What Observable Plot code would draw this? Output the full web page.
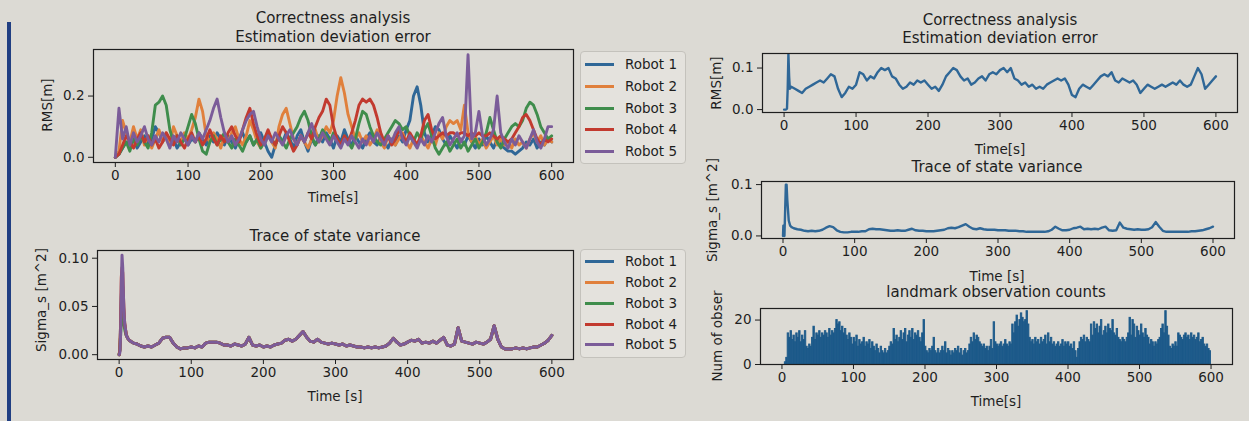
<!DOCTYPE html>
<html><head><meta charset="utf-8">
<script src="https://cdn.jsdelivr.net/npm/d3@7"></script>
<script src="https://cdn.jsdelivr.net/npm/@observablehq/plot@0.6"></script>
<style>
html,body{margin:0;padding:0;background:#dcdad4;}
#root{position:relative;width:1249px;height:421px;overflow:hidden;background:#dcdad4;font-family:"DejaVu Sans",sans-serif;color:#1e1e1e;}
.abs{position:absolute;}
.t{position:absolute;white-space:nowrap;transform:translate(-50%,-50%);}
.r{position:absolute;white-space:nowrap;transform:translate(-50%,-50%) rotate(-90deg);}
.legend{position:absolute;border:1px solid #c4c2bc;border-radius:4px;background:rgba(229,227,222,0.85);}
.li{position:absolute;left:4px;height:0;}
.li .sw{position:absolute;left:0;top:-1.5px;width:29px;height:3px;}
.li .lt{position:absolute;left:40px;top:-9px;font-size:13.5px;line-height:18px;white-space:nowrap;}
</style>
</head><body>
<div id="root"></div>
<script>
// ---------------- data ----------------
const robots = ["Robot 1", "Robot 2", "Robot 3", "Robot 4", "Robot 5"];
const robotColors = ["#2f6797", "#e0803c", "#3f8d4c", "#c23a2f", "#7b5c99"];
const xTicks = [0, 100, 200, 300, 400, 500, 600];

// Panel A: RMS per robot, sampled every 5 s from 0 to 600
const rmsTime = d3.range(0, 601, 5);
const rmsRobot1 = [0,.01,.03,.05,.04,.06,.03,.05,.07,.04,
 .06,.1,.08,.05,.07,.04,.06,.03,.05,.07,
 .04,.06,.05,.08,.06,.04,.07,.05,.08,.06,
 .04,.07,.05,.03,.06,.08,.05,.07,.04,.06,
 .08,.05,.02,0,.04,.07,.05,.08,.06,.03,
 .07,.09,.05,.02,.06,.04,.07,.05,.08,.06,
 .03,.07,.05,.09,.06,.04,.07,.05,.03,.06,
 .08,.05,.04,.07,.05,.03,.06,.04,.07,.05,
 .09,.12,.2,.23,.17,.08,.05,.07,.1,.09,
 .06,.04,.07,.05,.03,.06,.04,.07,.05,.03,
 .06,.04,.07,.05,.03,.06,.04,.03,.02,.02,
 .01,.02,.03,.05,.04,.06,.03,.05,.04,.06,
 .05];
const rmsRobot2 = [0,.02,.12,.08,.05,.1,.06,.09,.04,.07,
 .03,.06,.09,.05,.08,.04,.1,.07,.05,.08,
 .06,.09,.13,.19,.15,.07,.05,.08,.06,.03,
 .07,.05,.08,.1,.06,.04,.07,.12,.09,.05,
 .03,.06,.08,.05,.03,.1,.14,.16,.11,.06,
 .04,.07,.05,.03,.06,.09,.05,.07,.1,.08,
 .12,.2,.26,.21,.14,.1,.06,.08,.05,.07,
 .04,.06,.09,.05,.03,.07,.05,.04,.06,.08,
 .05,.03,.06,.04,.07,.05,.03,.06,.04,.08,
 .06,.1,.12,.11,.12,.09,.17,.08,.05,.07,
 .04,.06,.03,.05,.07,.04,.06,.04,.05,.03,
 .06,.04,.05,.03,.06,.08,.05,.07,.04,.06,
 .05];
const rmsRobot3 = [0,.01,.03,.05,.02,.06,.04,.07,.05,.03,
 .08,.17,.18,.2,.17,.09,.05,.07,.04,.06,
 .1,.14,.11,.06,.02,.01,.05,.07,.04,.06,
 .08,.05,.03,.06,.04,.02,.05,.07,.04,.06,
 .03,.05,.08,.06,.04,.07,.05,.03,.06,.08,
 .1,.13,.15,.12,.07,.04,.06,.09,.07,.05,
 .08,.06,.04,.07,.05,.03,.06,.11,.15,.14,
 .1,.07,.05,.04,.06,.08,.1,.12,.11,.09,
 .1,.07,.05,.08,.06,.09,.11,.07,.03,.01,
 .03,.05,.02,.04,.06,.03,.05,.02,.04,.06,
 .03,.05,.08,.13,.09,.05,.03,.06,.08,.1,
 .11,.1,.12,.16,.18,.17,.14,.1,.08,.06,
 .07];
const rmsRobot4 = [0,.01,.04,.07,.05,.03,.06,.08,.05,.07,
 .04,.06,.03,.05,.08,.06,.04,.07,.05,.03,
 .06,.08,.05,.07,.04,.06,.09,.06,.04,.07,
 .05,.08,.1,.07,.05,.09,.13,.16,.11,.07,
 .04,.06,.09,.06,.04,.07,.1,.08,.05,.02,
 .04,.07,.05,.08,.06,.1,.13,.15,.19,.17,
 .1,.06,.04,.07,.05,.08,.12,.17,.19,.18,
 .19,.17,.13,.08,.05,.07,.04,.06,.09,.07,
 .05,.08,.06,.04,.07,.12,.14,.09,.06,.07,
 .08,.07,.08,.08,.07,.08,.08,.07,.08,.07,
 .08,.07,.07,.08,.07,.06,.07,.06,.05,.06,
 .08,.1,.13,.14,.12,.09,.06,.04,.06,.05,
 .06];
const rmsRobot5 = [0,.16,.06,.1,.04,.08,.05,.07,.1,.06,
 .04,.07,.05,.08,.06,.03,.07,.05,.08,.06,
 .04,.07,.05,.08,.06,.09,.12,.16,.19,.13,
 .08,.05,.07,.04,.06,.09,.12,.14,.15,.1,
 .06,.04,.07,.05,.08,.06,.04,.07,.09,.06,
 .04,.07,.05,.08,.11,.07,.05,.08,.06,.04,
 .07,.05,.03,.06,.04,.07,.05,.03,.06,.04,
 .07,.05,.08,.06,.04,.07,.05,.08,.1,.06,
 .04,.07,.05,.03,.06,.04,.07,.05,.08,.11,
 .13,.07,.04,.06,.08,.05,.07,.335,.06,.08,
 .15,.07,.04,.06,.09,.2,.08,.05,.03,.06,
 .04,.07,.05,.03,.06,.09,.05,.03,.06,.1,
 .1];
const rmsRobots = [rmsRobot1, rmsRobot2, rmsRobot3, rmsRobot4, rmsRobot5];

// Panel B: trace of state variance per robot
const sigmaEarlyTime = [0,1,2,3,4,5,6,7,8,9,10,12,14,16,18];
const sigmaEarly1 = [0,.005,.03,.06,.075,.07,.05,.035,.03,.025,.02,.017,.015,.014,.013];
const sigmaEarly2 = [0,.005,.025,.05,.065,.06,.05,.035,.03,.025,.02,.017,.015,.014,.013];
const sigmaEarly3 = [0,.005,.02,.035,.04,.045,.035,.03,.025,.022,.02,.017,.015,.014,.013];
const sigmaEarly4 = [0,.005,.03,.08,.09,.085,.06,.04,.03,.025,.02,.017,.015,.014,.013];
const sigmaEarly5 = [0,.002,.02,.07,.103,.09,.06,.04,.03,.025,.02,.017,.015,.014,.013];
const sigmaEarly = [sigmaEarly1, sigmaEarly2, sigmaEarly3, sigmaEarly4, sigmaEarly5];
// after 20 s all robots coincide (every 5 s, 20..600)
const sigmaLateTime = d3.range(20, 601, 5);
const sigmaLate = [.012,.011,.009,.008,.009,.008,.01,.012,.017,.018,
 .018,.012,.008,.006,.007,.007,.008,.007,.009,.008,
 .012,.013,.013,.013,.012,.01,.01,.009,.011,.01,
 .009,.011,.018,.01,.009,.01,.008,.009,.008,.01,
 .011,.012,.015,.016,.014,.016,.02,.024,.018,.014,
 .013,.016,.013,.012,.011,.012,.011,.01,.011,.009,
 .01,.009,.008,.008,.007,.008,.007,.008,.007,.008,
 .009,.012,.017,.013,.01,.011,.013,.015,.014,.016,
 .012,.013,.012,.014,.012,.015,.018,.01,.009,.011,
 .028,.014,.013,.012,.011,.013,.012,.011,.013,.016,
 .03,.016,.008,.006,.006,.006,.007,.006,.007,.006,
 .007,.008,.008,.01,.012,.015,.02];

// Panel C: mean RMS
const meanRmsTime = [0,2,4,5,6,7,8].concat(d3.range(10, 601, 5));
const meanRms = [0,0,.002,.05,.133,.08,.05,
 .055,.05,.045,.04,.05,.055,.06,.065,.07,.065,
 .075,.085,.08,.05,.03,.04,.055,.05,.06,.09,
 .085,.07,.08,.075,.09,.1,.095,.1,.08,.075,
 .06,.05,.055,.065,.06,.07,.065,.07,.06,.05,
 .055,.045,.06,.08,.09,.1,.095,.08,.07,.075,
 .06,.065,.075,.08,.07,.085,.09,.085,.095,.1,
 .09,.1,.075,.07,.06,.065,.055,.06,.05,.055,
 .05,.06,.065,.07,.075,.07,.075,.06,.035,.03,
 .05,.06,.055,.05,.06,.07,.08,.085,.08,.09,
 .07,.065,.075,.07,.065,.07,.06,.04,.05,.06,
 .055,.05,.055,.06,.055,.06,.065,.06,.07,.06,
 .055,.06,.08,.1,.085,.05,.06,.07,.08];

// Panel D: mean trace of state variance
const meanSigmaTime = [0,0.5,2,3,4,5,6,8,10,12,15].concat(d3.range(20, 601, 5));
const meanSigma = [0,.02,0,.05,.1,.1,.07,.03,.02,.017,.015,
 .013,.012,.01,.009,.01,.009,.01,.012,.016,.019,
 .017,.011,.008,.007,.007,.008,.008,.008,.009,.009,
 .013,.014,.013,.013,.012,.011,.01,.01,.011,.01,
 .01,.012,.014,.011,.01,.01,.009,.009,.009,.01,
 .011,.012,.015,.016,.015,.017,.02,.023,.018,.014,
 .013,.015,.013,.012,.012,.012,.011,.011,.011,.01,
 .01,.01,.009,.009,.008,.008,.008,.008,.008,.008,
 .009,.012,.018,.014,.011,.011,.012,.015,.016,.018,
 .013,.014,.013,.014,.013,.016,.018,.011,.01,.011,
 .026,.016,.014,.013,.012,.013,.012,.012,.013,.017,
 .027,.018,.01,.008,.008,.008,.008,.008,.008,.008,
 .009,.009,.01,.011,.013,.015,.018];

// Panel E: landmark observation counts, 2 s bins from 0 to 600
const binWidth = 2;
const obsCounts = [0,0,1,3,14,12,15,11,13,10,
 14,12,15,10,13,11,15,8,7,9,
 8,12,17,11,14,13,15,12,14,13,
 15,14,12,16,13,15,14,16,20,18,
 19,15,17,14,16,13,11,14,12,9,
 12,10,13,8,11,9,10,12,8,10,
 9,11,7,10,8,6,9,7,5,8,
 6,5,7,5,6,8,10,9,16,11,
 13,10,12,15,11,14,16,10,13,15,
 12,16,11,14,13,15,12,10,14,20,
 8,6,5,7,6,8,12,6,5,7,
 5,6,8,6,10,5,7,6,4,6,
 5,7,6,8,5,7,4,6,7,5,
 6,9,12,10,14,11,13,12,10,9,
 8,9,7,8,6,8,11,7,19,10,
 9,8,9,10,8,9,11,9,8,10,
 9,18,14,19,22,17,20,23,21,19,
 20,24,18,12,10,11,9,12,10,11,
 9,12,10,11,13,9,14,10,12,9,
 10,8,9,10,8,9,11,8,10,9,
 10,8,9,7,10,6,3,7,10,12,
 11,13,10,12,11,10,18,13,19,16,
 18,14,17,20,13,15,17,14,18,16,
 15,20,14,13,16,12,11,10,12,11,
 10,12,14,21,13,20,18,12,17,15,
 13,18,14,12,16,13,12,9,11,10,
 8,10,9,11,12,16,18,14,24,17,
 13,8,7,9,8,10,8,14,13,12,
 11,13,14,12,13,11,14,12,13,11,
 12,14,10,11,12,9,8,9,7,6];

// ---------------- tables ----------------
const rmsTable = robots.flatMap((r, k) => rmsTime.map((t, i) => ({robot: r, t, v: rmsRobots[k][i]})));
const sigmaTable = robots.flatMap((r, k) => [
  ...sigmaEarlyTime.map((t, i) => ({robot: r, t, v: sigmaEarly[k][i]})),
  ...sigmaLateTime.map((t, i) => ({robot: r, t, v: sigmaLate[i]}))
]);
const meanRmsTable = meanRmsTime.map((t, i) => ({t, v: meanRms[i]}));
const meanSigmaTable = meanSigmaTime.map((t, i) => ({t, v: meanSigma[i]}));
const obsTable = obsCounts.map((n, i) => ({t0: i * binWidth, t1: (i + 1) * binWidth, n}));

// ---------------- drawing ----------------
const root = document.getElementById("root");
const ink = "#1e1e1e";

function panel(o) {
  const svg = Plot.plot({
    width: o.width, height: o.height,
    marginTop: o.mt, marginRight: o.mr, marginBottom: o.mb, marginLeft: o.ml,
    x: {domain: [-30, 630], ticks: xTicks, tickSize: 5, tickPadding: 3, label: null},
    y: {domain: o.ydomain, ticks: o.yticks, tickFormat: o.yfmt, tickSize: 5, tickPadding: 4, label: null},
    color: {domain: robots, range: robotColors},
    style: {background: "transparent", fontFamily: "DejaVu Sans", fontSize: "13.5px", color: ink, overflow: "visible"},
    marks: [...o.marks, Plot.frame({stroke: ink, strokeWidth: 1.2})]
  });
  const d = document.createElement("div");
  d.className = "abs";
  d.style.left = o.left + "px"; d.style.top = o.top + "px";
  d.style.width = o.width + "px"; d.style.height = o.height + "px";
  d.appendChild(svg);
  root.appendChild(d);
}
function text(s, x, y, size, rot) {
  const d = document.createElement("div");
  d.className = rot ? "r" : "t";
  d.style.left = x + "px"; d.style.top = y + "px"; d.style.fontSize = size + "px";
  d.textContent = s;
  root.appendChild(d);
}
function legend(x, y, w, h, ys) {
  const L = document.createElement("div");
  L.className = "legend";
  L.style.left = x + "px"; L.style.top = y + "px"; L.style.width = w + "px"; L.style.height = h + "px";
  robots.forEach((r, i) => {
    const it = document.createElement("div");
    it.className = "li"; it.style.top = ys[i] + "px";
    it.innerHTML = `<div class="sw" style="background:${robotColors[i]}"></div><div class="lt">${r}</div>`;
    L.appendChild(it);
  });
  root.appendChild(L);
}

// left blue border of the photo
const edge = document.createElement("div");
edge.className = "abs";
Object.assign(edge.style, {left: "7px", top: "22px", width: "4px", height: "399px", background: "#213f82"});
root.appendChild(edge);

// Panel A
panel({left: 0, top: 0, width: 580, height: 210, mt: 49, mr: 7, mb: 48, ml: 93,
  ydomain: [-0.017, 0.352], yticks: [0, 0.2], yfmt: d3.format(".1f"),
  marks: [Plot.line(rmsTable, {x: "t", y: "v", z: "robot", stroke: "robot", strokeWidth: 2.9})]});
text("Correctness analysis", 333, 18, 15);
text("Estimation deviation error", 333, 37, 15);
text("Time[s]", 333, 197, 13.5);
text("RMS[m]", 47, 105, 13.5, true);
legend(580, 51, 104, 111, [12, 34, 56, 77, 99]);

// Panel B
panel({left: 0, top: 200, width: 580, height: 215, mt: 50, mr: 7, mb: 56, ml: 97,
  ydomain: [-0.005, 0.108], yticks: [0, 0.05, 0.1], yfmt: d3.format(".2f"),
  marks: [Plot.line(sigmaTable, {x: "t", y: "v", z: "robot", stroke: "robot", strokeWidth: 3})]});
text("Trace of state variance", 335, 236, 15);
text("Time [s]", 335, 396, 13.5);
text("Sigma_s [m^2]", 41, 300, 13.5, true);
legend(580, 249, 104, 107, [11, 32, 53, 74, 94]);

// Panel C
panel({left: 690, top: 0, width: 559, height: 160, mt: 53, mr: 12, mb: 48, ml: 72,
  ydomain: [-0.007, 0.135], yticks: [0, 0.1], yfmt: d3.format(".1f"),
  marks: [Plot.line(meanRmsTable, {x: "t", y: "v", stroke: robotColors[0], strokeWidth: 2.4})]});
text("Correctness analysis", 1000, 20, 15);
text("Estimation deviation error", 1000, 38, 15);
text("Time[s]", 1000, 149, 13.5);
text("RMS[m]", 716, 83, 13.5, true);

// Panel D
panel({left: 690, top: 140, width: 559, height: 130, mt: 41, mr: 15, mb: 32, ml: 71,
  ydomain: [-0.005, 0.106], yticks: [0, 0.1], yfmt: d3.format(".1f"),
  marks: [Plot.line(meanSigmaTable, {x: "t", y: "v", stroke: robotColors[0], strokeWidth: 2.4})]});
text("Trace of state variance", 997, 167, 15);
text("Time [s]", 997, 276, 13.5);
text("Sigma_s [m^2]", 712, 210, 13.5, true);

// Panel E
panel({left: 690, top: 270, width: 559, height: 135, mt: 38, mr: 17, mb: 41, ml: 70,
  ydomain: [0, 25.2], yticks: [0, 20], yfmt: d3.format("d"),
  marks: [Plot.rectY(obsTable, {x1: "t0", x2: "t1", y: "n", fill: "#1d5a8a", stroke: "#1d5a8a", strokeWidth: 0.9})]});
text("landmark observation counts", 996, 292, 15);
text("Time[s]", 996, 401, 13.5);
text("Num of obser", 717, 336, 13.5, true);
</script>
</body></html>
